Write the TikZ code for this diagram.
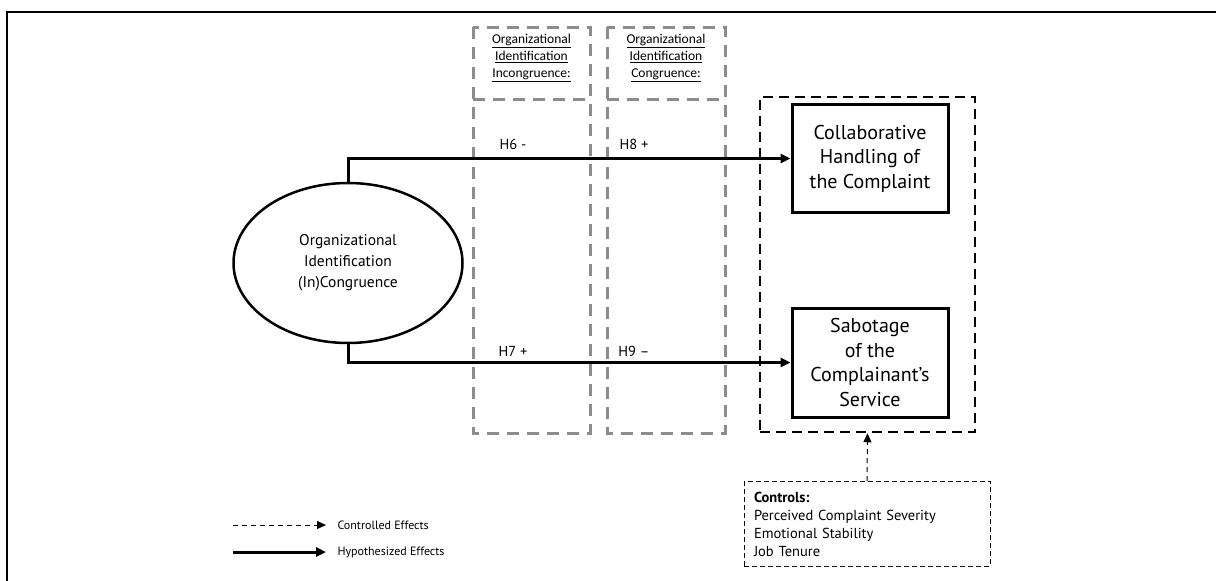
\documentclass[tikz,border=0pt]{standalone}
\usepackage{fontspec}
\setmainfont{PT Sans}
\newfontfamily\hdrfont{Carlito}
\usetikzlibrary{arrows.meta,shapes.geometric}

\definecolor{colgray}{HTML}{8C8C8C}

\tikzset{
  frameline/.style={line width=2.5pt},
  graydash/.style={draw=colgray, line width=3pt, dash pattern=on 12pt off 8pt},
  zonedash/.style={draw=black, line width=2.5pt, dash pattern=on 10pt off 6pt},
  constructbox/.style={draw, line width=3pt, minimum width=156pt, align=center,
    font=\fontsize{20}{24.5}\selectfont},
  latent/.style={draw, ellipse, line width=2.5pt, minimum width=229pt, minimum height=160pt,
    align=center, font=\fontsize{15.5}{21}\selectfont},
  hyp/.style={line width=3pt, -{Triangle[length=10pt,width=9pt]}},
  ctrl/.style={line width=1pt, dash pattern=on 5pt off 4pt, -{Triangle[length=9pt,width=8pt]}},
  hlabel/.style={font=\fontsize{14.5}{16}\selectfont},
  header/.style={align=center, font=\hdrfont\fontsize{13.5}{17}\selectfont},
  legendtext/.style={anchor=west, font=\fontsize{12}{14}\selectfont},
}

\begin{document}
\begin{tikzpicture}[x=1pt,y=-1pt]
\useasboundingbox (0,0) rectangle (1216,581);

% outer frame
\draw[frameline] (7,581) -- (7,12) -- (1216,12);

% moderator columns
\draw[graydash] (473,27) rectangle (590,433);
\draw[graydash] (473,99) -- (590,99);
\draw[graydash] (607,27) rectangle (725,433);
\draw[graydash] (607,99) -- (725,99);
\node[header] (incong) at (531.5,58)
  {\underline{Organizational}\\\underline{Identification}\\\underline{Incongruence:}};
\node[header] (cong) at (666,58)
  {\underline{Organizational}\\\underline{Identification}\\\underline{Congruence:}};

% outcome zone
\node[zonedash, minimum width=215pt, minimum height=335pt] (zone) at (867.5,264.5) {};

% constructs
\node[latent] (oi) at (348,263) {Organizational\\Identification\\(In)Congruence};
\node[constructbox, minimum height=108pt] (collab) at (870,158.5)
  {Collaborative\\Handling of\\the Complaint};
\node[constructbox, minimum height=109pt] (sab) at (870,362.5)
  {Sabotage\\of the\\Complainant’s\\Service};

% hypothesized paths
\draw[hyp] (oi.north) |- (collab.west);
\draw[hyp] (oi.south) |- (sab.west);
\node[hlabel] (h6) at (513,144) {H6 -};
\node[hlabel] (h8) at (634,144) {H8 +};
\node[hlabel] (h7) at (513,351) {H7 +};
\node[hlabel] (h9) at (634,351) {H9 –};

% controls
\node[draw, line width=1pt, dash pattern=on 5pt off 3pt, minimum width=246pt, minimum height=84pt,
  text width=226pt, inner sep=10pt, align=left, font=\fontsize{14.5}{18}\selectfont] (controls) at (867,524)
  {\textbf{Controls:}\\Perceived Complaint Severity\\Emotional Stability\\Job Tenure};
\draw[ctrl] (controls.north) -- (zone.south);

% legend
\coordinate (l1a) at (233,525);
\coordinate (l1b) at (326,525);
\coordinate (l2a) at (233,552);
\coordinate (l2b) at (326,552);
\draw[ctrl] (l1a) -- (l1b);
\draw[hyp] (l2a) -- (l2b);
\node[legendtext] (lt1) at (334,525) {Controlled Effects};
\node[legendtext] (lt2) at (334,552) {Hypothesized Effects};
\end{tikzpicture}
\end{document}
